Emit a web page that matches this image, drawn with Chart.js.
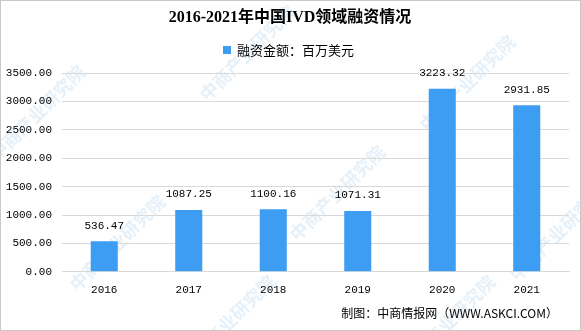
<!DOCTYPE html>
<html><head><meta charset="utf-8">
<script src="https://cdn.jsdelivr.net/npm/chart.js@4/dist/chart.umd.min.js"></script>
<style>html,body{margin:0;padding:0;background:#fff}#wrap{width:581px;height:331px;position:relative}</style>
</head><body><div id="wrap"><canvas id="c" width="581" height="331"></canvas></div>
<script>
const categories = ['2016','2017','2018','2019','2020','2021'];
const financing = [536.47, 1087.25, 1100.16, 1071.31, 3223.32, 2931.85];
const yTicks = [0, 500, 1000, 1500, 2000, 2500, 3000, 3500];
const titleText = '2016-2021年中国IVD领域融资情况';
const legendText = '融资金额：百万美元';
const footerText = '制图：中商情报网（WWW.ASKCI.COM）';
const watermarkText = '中商产业研究院';

const MONO = '"Liberation Mono", "Noto Sans CJK SC", monospace';
const CJK = '"Noto Sans CJK SC", sans-serif';

const decor = {
  id: 'decor',
  beforeDraw(chart) {
    const ctx = chart.ctx;
    ctx.save();
    ctx.fillStyle = 'rgba(170,205,235,0.3)';
    ctx.font = 'bold 18px ' + CJK;
    const spots = [[40,120],[250,60],[470,90],[120,250],[340,200],[560,240],[230,330],[450,330]];
    spots.forEach(([x,y]) => {
      ctx.save(); ctx.translate(x,y); ctx.rotate(-Math.PI/4);
      ctx.fillText(watermarkText, -60, 0); ctx.restore();
    });
    ctx.restore();
  },
  afterDraw(chart) {
    const ctx = chart.ctx;
    ctx.save();
    ctx.fillStyle = '#000';
    ctx.textAlign = 'center'; ctx.textBaseline = 'middle';
    ctx.font = 'bold 16px "Liberation Serif", ' + CJK;
    ctx.fillText(titleText, 290, 18);
    ctx.fillStyle = '#3d9df2';
    ctx.fillRect(223, 46, 8, 8);
    ctx.fillStyle = '#000';
    ctx.textAlign = 'left';
    ctx.font = '13px ' + CJK;
    ctx.fillText(legendText, 237, 50);
    ctx.textAlign = 'right';
    ctx.font = '12px ' + CJK;
    ctx.fillText(footerText, 558, 313);
    const meta = chart.getDatasetMeta(0);
    ctx.textAlign = 'center'; ctx.textBaseline = 'bottom';
    ctx.font = '11px ' + MONO;
    meta.data.forEach((bar, i) => {
      ctx.fillText(financing[i].toFixed(2), bar.x, bar.y - 10);
    });
    ctx.strokeStyle = '#c8c8c8'; ctx.lineWidth = 1;
    ctx.strokeRect(0.5, 0.5, 580, 330);
    ctx.restore();
  }
};

new Chart(document.getElementById('c'), {
  type: 'bar',
  data: { labels: categories, datasets: [{ data: financing, backgroundColor: '#3d9df2', barPercentage: 0.32, categoryPercentage: 1.0 }] },
  options: {
    responsive: false, animation: false,
    layout: { padding: { top: 73, right: 12, bottom: 22, left: 0 } },
    plugins: { legend: { display: false }, title: { display: false }, tooltip: { enabled: false } },
    scales: {
      x: {
        grid: { display: false, drawTicks: false },
        border: { display: true, color: '#d9d9d9' },
        ticks: { color: '#000', font: { family: MONO, size: 11 }, padding: 12 }
      },
      y: {
        min: 0, max: 3500,
        afterBuildTicks(s) { s.ticks = yTicks.map(v => ({ value: v })); },
        afterFit(s) { s.width = 62; },
        grid: { color: '#d9d9d9', drawTicks: false },
        border: { display: false },
        ticks: { color: '#000', font: { family: MONO, size: 11 }, padding: 10, callback: v => Number(v).toFixed(2) }
      }
    }
  },
  plugins: [decor]
});
</script></body></html>
